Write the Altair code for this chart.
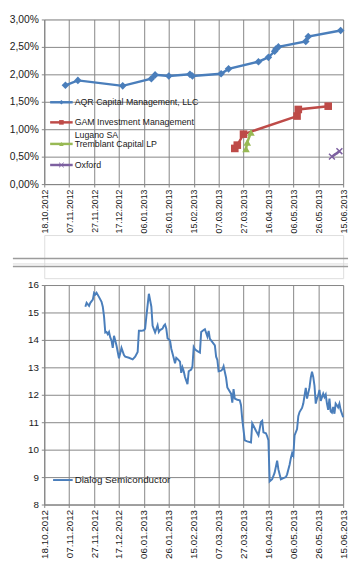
import altair as alt
import pandas as pd

# ---------------- data ----------------
aqr_dates = ["2012-11-04", "2012-11-14", "2012-12-20", "2013-01-12", "2013-01-15", "2013-01-26",
             "2013-02-12", "2013-02-14", "2013-03-09", "2013-03-15", "2013-04-08", "2013-04-16",
             "2013-04-21", "2013-04-22", "2013-04-24", "2013-05-16", "2013-05-18", "2013-06-13"]
aqr_values = [0.0180, 0.0189, 0.0179, 0.0192, 0.0199, 0.0197,
              0.0200, 0.0197, 0.0201, 0.0210, 0.0223, 0.0231,
              0.0242, 0.0246, 0.0250, 0.0260, 0.0269, 0.0280]

gam_dates = ["2013-03-20", "2013-03-22", "2013-03-27", "2013-05-09", "2013-05-10", "2013-06-03"]
gam_values = [0.0065, 0.0071, 0.0091, 0.0124, 0.0136, 0.0142]

tremblant_dates = ["2013-03-29", "2013-03-30", "2013-04-02"]
tremblant_values = [0.0064, 0.0076, 0.0094]

oxford_dates = ["2013-06-06", "2013-06-12"]
oxford_values = [0.0050, 0.0060]

series_names = ["AQR Capital Management, LLC", "GAM Investment Management",
                "Tremblant Capital LP", "Oxford"]
lugano_label = "Lugano SA"

dialog_dates = [
    "2012-11-20", "2012-11-21", "2012-11-23", "2012-11-24", "2012-11-26", "2012-11-27", "2012-11-28",
    "2012-11-29", "2012-12-01", "2012-12-03", "2012-12-04", "2012-12-05", "2012-12-06", "2012-12-07",
    "2012-12-08", "2012-12-09", "2012-12-10", "2012-12-11", "2012-12-12", "2012-12-13", "2012-12-14",
    "2012-12-15", "2012-12-16", "2012-12-17", "2012-12-18", "2012-12-19", "2012-12-21", "2012-12-22",
    "2012-12-25", "2012-12-28", "2012-12-30", "2013-01-01", "2013-01-02", "2013-01-04", "2013-01-06",
    "2013-01-07", "2013-01-08", "2013-01-09", "2013-01-10", "2013-01-12", "2013-01-13", "2013-01-14",
    "2013-01-15", "2013-01-17", "2013-01-18", "2013-01-19", "2013-01-21", "2013-01-22", "2013-01-23",
    "2013-01-24", "2013-01-25", "2013-01-27", "2013-01-28", "2013-01-30", "2013-01-31", "2013-02-01",
    "2013-02-02", "2013-02-04", "2013-02-05", "2013-02-06", "2013-02-07", "2013-02-08", "2013-02-10",
    "2013-02-11", "2013-02-13", "2013-02-14", "2013-02-15", "2013-02-16", "2013-02-18", "2013-02-20",
    "2013-02-21", "2013-02-23", "2013-02-24", "2013-02-26", "2013-02-27", "2013-02-28", "2013-03-02",
    "2013-03-04", "2013-03-05", "2013-03-06", "2013-03-07", "2013-03-09", "2013-03-10", "2013-03-11",
    "2013-03-13", "2013-03-14", "2013-03-17", "2013-03-18", "2013-03-19", "2013-03-20", "2013-03-22",
    "2013-03-24", "2013-03-25", "2013-03-26", "2013-03-28", "2013-03-30", "2013-04-02", "2013-04-03",
    "2013-04-04", "2013-04-06", "2013-04-08", "2013-04-10", "2013-04-11", "2013-04-12", "2013-04-14",
    "2013-04-15", "2013-04-16", "2013-04-17", "2013-04-19", "2013-04-21", "2013-04-23", "2013-04-24",
    "2013-04-26", "2013-04-28", "2013-04-30", "2013-05-01", "2013-05-03", "2013-05-04", "2013-05-05",
    "2013-05-06", "2013-05-07", "2013-05-09", "2013-05-10", "2013-05-11", "2013-05-13", "2013-05-14",
    "2013-05-16", "2013-05-17", "2013-05-19", "2013-05-20", "2013-05-21", "2013-05-22", "2013-05-23",
    "2013-05-24", "2013-05-25", "2013-05-26", "2013-05-27", "2013-05-28", "2013-05-30", "2013-05-31",
    "2013-06-01", "2013-06-02", "2013-06-03", "2013-06-04", "2013-06-05", "2013-06-06", "2013-06-07",
    "2013-06-08", "2013-06-09", "2013-06-10", "2013-06-11", "2013-06-12", "2013-06-13", "2013-06-15"]
dialog_prices = [
    15.21, 15.35, 15.24, 15.35, 15.47, 15.71, 15.66,
    15.72, 15.56, 15.39, 15.21, 14.86, 14.27, 14.29,
    14.21, 14.29, 14.09, 13.98, 13.71, 14.15, 13.98,
    13.80, 13.56, 13.33, 13.51, 13.71, 13.45, 13.39,
    13.35, 13.29, 13.39, 13.56, 14.33, 14.33, 14.35,
    14.41, 14.86, 15.27, 15.68, 15.21, 14.51, 14.39,
    14.27, 14.53, 14.29, 14.36, 14.41, 14.51, 14.56,
    14.41, 14.06, 13.98, 13.68, 13.33, 13.15, 13.35,
    13.31, 13.21, 12.80, 13.00, 12.86, 12.65, 12.39,
    12.86, 12.92, 13.04, 13.74, 13.66, 13.59, 13.54,
    14.29, 14.36, 14.39, 14.12, 14.33, 14.04, 13.92,
    13.80, 13.39, 13.27, 12.86, 12.88, 12.92, 13.04,
    12.62, 12.27, 12.04, 11.71, 12.21, 11.86, 11.82,
    11.80, 11.62, 11.10, 10.34, 10.30, 10.26, 10.96,
    10.87, 10.69, 10.52, 11.01, 11.05, 10.63, 10.60,
    10.49, 10.34, 8.84, 8.92, 9.16, 9.60, 9.28,
    8.92, 8.96, 9.00, 9.10, 9.45, 9.69, 9.87,
    9.78, 10.52, 10.75, 11.22, 11.37, 11.52, 11.68,
    12.25, 11.86, 12.27, 12.62, 12.84, 12.65, 12.33,
    11.68, 11.86, 11.98, 12.18, 11.78, 12.04, 11.92,
    12.01, 11.68, 11.45, 11.86, 11.39, 11.35, 11.56,
    11.31, 11.68, 11.62, 11.54, 11.68, 11.45, 11.18]
dialog_label = "Dialog Semiconductor"

tick_dates = ["2012-10-18", "2012-11-07", "2012-11-27", "2012-12-17", "2013-01-06", "2013-01-26",
              "2013-02-15", "2013-03-07", "2013-03-27", "2013-04-16", "2013-05-06", "2013-05-26",
              "2013-06-15"]
top_ticks = [0.0, 0.005, 0.01, 0.015, 0.02, 0.025, 0.03]
bottom_ticks = [8, 9, 10, 11, 12, 13, 14, 15, 16]

# ---------------- styling ----------------
FONT = "Liberation Sans"
GRID = "#858585"
TEXT = "#1a1a1a"
colors = ["#4a7ebb", "#be4b48", "#98b954", "#7d60a0"]
X_PATH = "M-1,-1L1,1M-1,1L1,-1"


def ms(d):
    return int(pd.Timestamp(d).timestamp() * 1000)


tick_ms = [ms(d) for d in tick_dates]
x_domain = [tick_ms[0], tick_ms[-1]]
date_label = "utcFormat(datum.value, '%d.%m.%Y')"


def x_enc(font_size):
    return alt.X("date:T", title=None,
                 scale=alt.Scale(type="utc", domain=x_domain, nice=False),
                 axis=alt.Axis(values=tick_ms, labelExpr=date_label, labelAngle=-90,
                               labelAlign="right", labelBaseline="middle",
                               labelFontSize=font_size, labelFont=FONT, labelColor=TEXT,
                               labelPadding=2, tickSize=3, tickColor=GRID, domainColor=GRID,
                               gridColor=GRID, gridOpacity=1, grid=True, labelOverlap=False,
                               labelFlush=False))


def y_axis(values, expr, font_size, min_extent):
    return alt.Axis(values=values, labelExpr=expr, labelFontSize=font_size, labelFont=FONT,
                    labelColor=TEXT, labelPadding=3, tickSize=3, tickColor=GRID,
                    domainColor=GRID, gridColor=GRID, gridOpacity=1, grid=True,
                    minExtent=min_extent, maxExtent=min_extent)


# ---------------- top panel ----------------
frames = []
for name, d, v in zip(series_names,
                      [aqr_dates, gam_dates, tremblant_dates, oxford_dates],
                      [aqr_values, gam_values, tremblant_values, oxford_values]):
    frames.append(pd.DataFrame({"series": name, "date": d, "value": v}))
top_df = pd.concat(frames, ignore_index=True)

x_top = x_enc(9)
y_top = alt.Y("value:Q", title=None, scale=alt.Scale(domain=[0, 0.03], nice=False),
              axis=y_axis(top_ticks, "replace(format(datum.value, '.2%'), '.', ',')", 10.5, 32))
color_enc = alt.Color("series:N", scale=alt.Scale(domain=series_names, range=colors), legend=None)
shape_enc = alt.Shape("series:N", scale=alt.Scale(domain=series_names,
                                                  range=["diamond", "square", "triangle-up", X_PATH]),
                      legend=None)

base_top = alt.Chart(top_df).encode(x=x_top, y=y_top, color=color_enc)
top_lines = base_top.mark_line(strokeWidth=2.5).encode(detail="series:N")
top_pts = base_top.mark_point(filled=True, size=60, opacity=1).encode(shape=shape_enc).transform_filter(
    alt.FieldOneOfPredicate(field="series", oneOf=series_names[:3]))
top_x = base_top.mark_point(filled=False, size=36, opacity=1, strokeWidth=1.5).encode(
    shape=shape_enc).transform_filter(alt.FieldEqualPredicate(field="series", equal=series_names[3]))

one = pd.DataFrame({"k": [0]})


def legend_item(y, color, label, shape=None, filled=True, x0=6, x1=29, tx=31, fs=9, sw=2.5):
    b = alt.Chart(one)
    layers = []
    if color is not None:
        layers.append(b.mark_rule(color=color, strokeWidth=sw).encode(
            x=alt.value(x0), x2=alt.value(x1), y=alt.value(y)))
    if shape is not None:
        layers.append(b.mark_point(shape=shape, filled=filled, color=color, size=22, opacity=1,
                                   strokeWidth=1).encode(x=alt.value((x0 + x1) / 2), y=alt.value(y)))
    layers.append(b.mark_text(align="left", baseline="middle", font=FONT, fontSize=fs, color=TEXT).encode(
        x=alt.value(tx), y=alt.value(y), text=alt.value(label)))
    return layers


legend_top = []
legend_top += legend_item(84.5, colors[0], series_names[0], "diamond")
legend_top += legend_item(105, colors[1], series_names[1], "square")
legend_top += legend_item(117.5, None, lugano_label)
legend_top += legend_item(127, colors[2], series_names[2], "triangle-up")
legend_top += legend_item(148.5, colors[3], series_names[3], X_PATH, filled=False)

top = alt.layer(top_lines, top_pts, top_x, *legend_top).properties(width=305, height=168)

# ---------------- separator (sheet cell borders) ----------------
sep_b = alt.Chart(one)
separator = alt.layer(
    sep_b.mark_rule(color="#9c9c9c", strokeWidth=1.5).encode(x=alt.value(-32), x2=alt.value(310), y=alt.value(24)),
    sep_b.mark_rule(color="#dadada", strokeWidth=1).encode(x=alt.value(-32), x2=alt.value(310), y=alt.value(29.5)),
    sep_b.mark_rule(color="#9c9c9c", strokeWidth=1.5).encode(x=alt.value(-32), x2=alt.value(310), y=alt.value(32)),
).properties(width=305, height=44)

# ---------------- bottom panel ----------------
dialog_df = pd.DataFrame({"date": dialog_dates, "price": dialog_prices})
bottom_line = alt.Chart(dialog_df).mark_line(color=colors[0], strokeWidth=2).encode(
    x=x_enc(10),
    y=alt.Y("price:Q", title=None, scale=alt.Scale(domain=[8, 16], nice=False),
            axis=y_axis(bottom_ticks, "format(datum.value, 'd')", 10, 28)))
legend_bottom = legend_item(199, colors[0], dialog_label, None, x0=9, x1=29, tx=31, fs=10, sw=2)
bottom = alt.layer(bottom_line, *legend_bottom).properties(width=305, height=224)

chart = alt.vconcat(top, separator, bottom, spacing=0).properties(padding=0).configure_view(
    stroke=None).configure(font=FONT)

chart.save("out.html", embed_options={"renderer": "svg", "actions": False})
